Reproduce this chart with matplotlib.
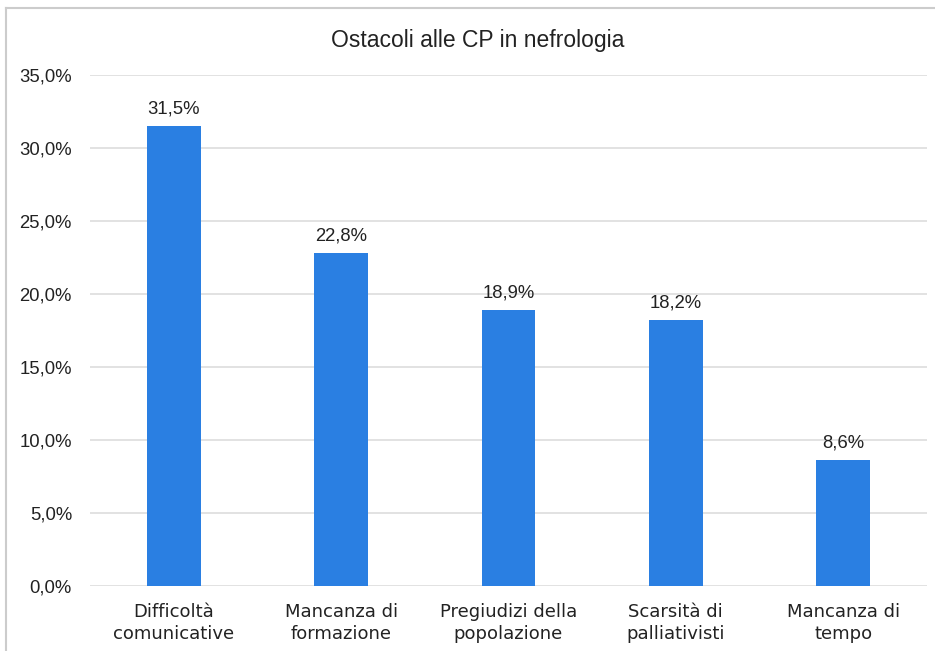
import matplotlib.pyplot as plt
from matplotlib.lines import Line2D
import numpy as np

categories = ['Difficoltà\ncomunicative', 'Mancanza di\nformazione', 'Pregiudizi della\npopolazione',
              'Scarsità di\npalliativisti', 'Mancanza di\ntempo']
values = [31.5, 22.8, 18.9, 18.2, 8.6]
yticks = [0, 5, 10, 15, 20, 25, 30, 35]

fig = plt.figure(figsize=(9.35, 6.51), dpi=100)
ax = fig.add_axes([0.0963, 0.0998, 0.895, 0.785])

ind = np.arange(len(categories))
ax.bar(ind, values, 0.32, color='#2a7fe2', zorder=3)
for i, v in enumerate(values):
    ax.text(i, v + 0.6, ('%.1f%%' % v).replace('.', ','), ha='center', va='bottom',
            fontsize=13.3, family='Liberation Sans', color='#222222')

ax.set_xlim(-0.5, len(categories) - 0.5)
ax.set_ylim(0, 35)
ax.set_yticks(yticks)
ax.set_yticklabels([('%.1f%%' % t).replace('.', ',') for t in yticks],
                   fontsize=13.3, family='Liberation Sans', color='#222222')
ax.set_xticks(ind)
ax.set_xticklabels(categories, fontsize=13, family='DejaVu Sans', color='#222222',
                   linespacing=1.3)
ax.tick_params(length=0)
ax.tick_params(axis='y', pad=13)
ax.tick_params(axis='x', pad=12)
ax.grid(axis='y', color='#dddddd', linewidth=1.2, zorder=0)
for s in ax.spines.values():
    s.set_visible(False)

fig.text(478 / 935, 1 - 40 / 651, 'Ostacoli alle CP in nefrologia', ha='center', va='center',
         fontsize=16.5, family='Liberation Sans', color='#222222')

# border around the chart
fig.add_artist(Line2D([6 / 935, 1], [1 - 8 / 651, 1 - 8 / 651], transform=fig.transFigure,
                      color='#cccccc', linewidth=1.5))
fig.add_artist(Line2D([6 / 935, 6 / 935], [0, 1 - 8 / 651], transform=fig.transFigure,
                      color='#cccccc', linewidth=1.5))

plt.savefig('out.png')
